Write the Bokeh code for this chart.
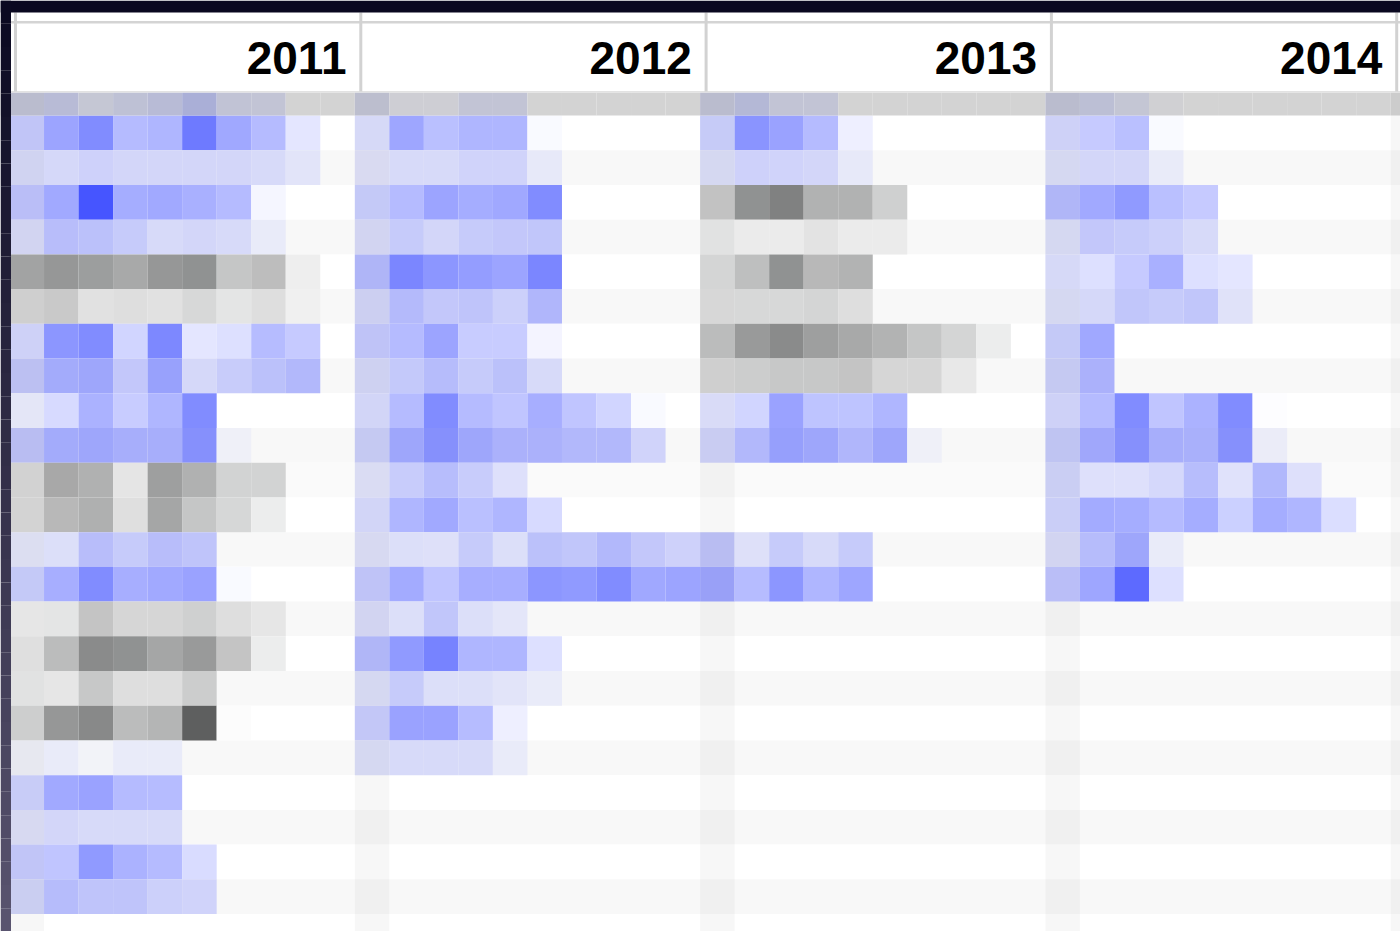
from bokeh.plotting import figure
from bokeh.models import Range1d
from bokeh.embed import file_html
from bokeh.resources import INLINE
from bokeh.core.properties import value

N = None
years = ["2011", "2012", "2013", "2014"]

# intensity (0-100) per row, 10 cells per year; None = empty cell
v2011 = [
    [29, 52, 66, 39, 42, 76, 50, 39, 14, N],
    [18, 19, 23, 20, 20, 20, 20, 18, 12, N],
    [33, 49, 97, 47, 49, 45, 39, 5, N, N],
    [17, 35, 33, 27, 18, 20, 18, 8, N, N],
    [51, 62, 58, 51, 62, 65, 34, 39, 10, N],
    [21, 29, 14, 16, 14, 20, 12, 16, 5, N],
    [22, 60, 66, 24, 68, 14, 18, 38, 30, N],
    [29, 46, 49, 29, 52, 19, 26, 33, 38, N],
    [10, 21, 44, 29, 42, 66, N, N, N, N],
    [31, 46, 49, 44, 44, 62, 5, N, N, N],
    [20, 50, 45, 13, 56, 45, 24, 24, N, N],
    [22, 42, 47, 19, 53, 34, 24, 11, N, N],
    [11, 15, 35, 27, 35, 31, N, N, N, N],
    [27, 46, 66, 46, 49, 53, 3, N, N, N],
    [6, 12, 32, 21, 21, 25, 16, 11, N, N],
    [14, 40, 69, 65, 53, 60, 35, 11, N, N],
    [9, 11, 30, 16, 16, 27, N, N, N, N],
    [25, 62, 70, 40, 44, 95, 2, N, N, N],
    [5, 8, 3, 8, 8, N, N, N, N, N],
    [25, 49, 53, 39, 38, N, N, N, N, N],
    [14, 20, 18, 18, 18, N, N, N, N, N],
    [29, 33, 58, 44, 39, 20, N, N, N, N],
    [21, 36, 31, 31, 24, 22, N, N, N, N],
]
v2012 = [
    [18, 51, 36, 42, 42, 3, N, N, N, N],
    [13, 18, 18, 22, 22, 9, N, N, N, N],
    [27, 39, 52, 47, 50, 66, N, N, N, N],
    [17, 27, 20, 27, 29, 30, N, N, N, N],
    [39, 69, 60, 56, 52, 69, N, N, N, N],
    [20, 37, 29, 31, 24, 39, N, N, N, N],
    [30, 39, 52, 29, 29, 6, N, N, N, N],
    [19, 28, 36, 27, 33, 18, N, N, N, N],
    [20, 39, 66, 39, 33, 46, 33, 24, 3, N],
    [24, 49, 62, 49, 42, 42, 38, 38, 22, N],
    [13, 27, 36, 27, 15, N, N, N, N, N],
    [20, 42, 49, 36, 42, 21, N, N, N, N],
    [14, 15, 14, 27, 15, 33, 30, 38, 29, 23],
    [30, 48, 33, 46, 46, 60, 58, 66, 50, 52],
    [17, 15, 30, 15, 11, N, N, N, N, N],
    [38, 58, 71, 42, 42, 18, N, N, N, N],
    [15, 27, 15, 15, 12, 8, N, N, N, N],
    [28, 53, 53, 38, 9, N, N, N, N, N],
    [15, 18, 18, 18, 8, N, N, N, N, N],
]
v2013 = [
    [26, 61, 53, 39, 9, N, N, N, N, N],
    [15, 23, 22, 20, 9, N, N, N, N, N],
    [32, 65, 75, 46, 46, 28, N, N, N, N],
    [9, 8, 8, 13, 8, 8, N, N, N, N],
    [21, 38, 65, 42, 45, N, N, N, N, N],
    [16, 20, 20, 22, 16, N, N, N, N, N],
    [36, 60, 69, 57, 51, 45, 34, 25, 11, N],
    [21, 27, 30, 30, 32, 21, 21, 10, N, N],
    [16, 24, 53, 34, 34, 42, N, N, N, N],
    [22, 38, 53, 49, 39, 49, 5, N, N, N],
    [N] * 10,
    [N] * 10,
    [31, 14, 27, 18, 27, N, N, N, N, N],
    [51, 38, 60, 42, 51, N, N, N, N, N],
]
v2014 = [
    [22, 30, 36, 3, N, N, N, N, N, N],
    [15, 20, 20, 8, N, N, N, N, N, N],
    [38, 49, 58, 36, 30, N, N, N, N, N],
    [15, 29, 27, 24, 18, N, N, N, N, N],
    [18, 18, 30, 45, 18, 14, N, N, N, N],
    [15, 19, 30, 27, 30, 13, N, N, N, N],
    [27, 50, N, N, N, N, N, N, N, N],
    [24, 42, N, N, N, N, N, N, N, N],
    [22, 39, 66, 33, 44, 66, 1, N, N, N],
    [27, 48, 62, 44, 43, 62, 7, N, N, N],
    [22, 15, 15, 20, 36, 14, 39, 15, N, N],
    [24, 48, 47, 39, 47, 27, 47, 42, 19, N],
    [17, 36, 49, 8, N, N, N, N, N, N],
    [33, 51, 85, 18, N, N, N, N, N, N],
]
values = {"2011": v2011, "2012": v2012, "2013": v2013, "2014": v2014}
# rows shown in the grey scale
gray_rows = {"2011": [4, 5, 10, 11, 14, 15, 16, 17], "2012": [],
             "2013": [2, 3, 4, 5, 6, 7], "2014": []}
# summary row above the grid
header_vals = {
    "2011": [35, 53, 27, 41, 53, 80, 35, 33, 0, 0],
    "2012": [31, 10, 10, 33, 33, 0, 0, 0, 0, 0],
    "2013": [35, 61, 33, 33, 0, 0, 0, 0, 0, 0],
    "2014": [35, 45, 29, 6, 0, 0, 0, 0, 0, 0],
}

N_ROWS = 24
NCOL = 10

# ---- geometry (pixels of the page) ----
CW, RH = 34.53, 34.72
GX0, GY0 = 9.0, 115.0
PW, PH = 1400, 931
LEFT, TOP = 0, 0


def px2x(px):
    return (px - GX0) / CW


def px2y(py):
    return (py - GY0) / RH


XL, XR = px2x(LEFT), px2x(LEFT + PW)
YT, YB = px2y(TOP), px2y(TOP + PH)

BLUE = (64, 80, 255)
GRAY = (85, 87, 87)
HDR0 = (211, 211, 211)
HDR1 = (160, 166, 216)


def hexc(c):
    return "#%02x%02x%02x" % tuple(int(round(max(0, min(255, v)))) for v in c)


def mix(a, b, t):
    return tuple(a[i] + (b[i] - a[i]) * t for i in range(3))


def bg(r):
    if r < 10:
        return (255, 255, 255) if r % 2 == 0 else (248, 248, 248)
    if r == 10:
        return (250, 250, 250)
    return (248, 248, 248) if r % 2 == 0 else (255, 255, 255)


p = figure(width=PW, height=PH, x_range=Range1d(XL, XR), y_range=Range1d(YB, YT),
           output_backend="svg", toolbar_location=None, min_border=0,
           x_axis_location=None, y_axis_location=None)
p.grid.visible = False
p.outline_line_color = None
p.background_fill_color = "white"
p.border_fill_color = "white"

# background stripes
bl, br, bt, bb, bc = [], [], [], [], []
for r in range(N_ROWS):
    bl.append(XL); br.append(XR); bt.append(r); bb.append(r + 1); bc.append(hexc(bg(r)))
p.quad(left=bl, right=br, top=bt, bottom=bb, fill_color=bc, line_color=None)

# cells
L, R, T, B, C = [], [], [], [], []
for k, yr in enumerate(years):
    for r, row in enumerate(values[yr]):
        base = GRAY if r in gray_rows[yr] else BLUE
        for c, v in enumerate(row):
            if v is None:
                continue
            x = k * NCOL + c
            L.append(x); R.append(x + 1); T.append(r); B.append(r + 1)
            C.append(hexc(mix(bg(r), base, v / 100.0)))
p.quad(left=L, right=R, top=T, bottom=B, fill_color=C, line_color=None)

# summary row
HY0 = px2y(92)
L, R, C = [], [], []
for k, yr in enumerate(years):
    for c, v in enumerate(header_vals[yr]):
        x = k * NCOL + c
        L.append(x); R.append(x + 1); C.append(hexc(mix(HDR0, HDR1, v / 100.0)))
L.append(len(years) * NCOL); R.append(len(years) * NCOL + 1); C.append(hexc(HDR0))
p.quad(left=L, right=R, top=[HY0] * len(L), bottom=[0] * len(L), fill_color=C, line_color=None)
p.quad(left=[XL], right=[0], top=[HY0], bottom=[0], fill_color=hexc(HDR0), line_color=None)

# first column of each year slightly darker
ox = [k * NCOL for k in range(len(years) + 1)]
p.quad(left=ox, right=[x + 1 for x in ox], top=[HY0] * len(ox), bottom=[YB] * len(ox),
       fill_color="black", fill_alpha=0.03, line_color=None)

# header band
p.quad(left=[XL], right=[XR], top=[px2y(12)], bottom=[px2y(91)], fill_color="white", line_color=None)
p.quad(left=[XL], right=[XR], top=[px2y(20.5)], bottom=[px2y(23)], fill_color="#d4d4d4", line_color=None)
p.quad(left=[XL], right=[XR], top=[px2y(90.5)], bottom=[px2y(92)], fill_color="#e2e2e2", line_color=None)
vx = [k * NCOL + (15 - GX0) / CW for k in range(len(years) + 1)]
p.segment(x0=vx, x1=vx, y0=[px2y(12)] * len(vx), y1=[px2y(91)] * len(vx),
          line_color="#d2d2d2", line_width=3)

# year labels
p.text(x=[k * NCOL + (346 - GX0) / CW for k in range(len(years))],
       y=[px2y(57)] * len(years), text=years,
       text_align="right", text_baseline="alphabetic",
       text_font=value("Liberation Sans"), text_font_style="bold",
       text_font_size="46px", text_color="#000000")

# dark window frame
p.quad(left=[XL], right=[XR], top=[YT], bottom=[px2y(12)], fill_color="#0a0820", line_color=None)
nseg = 40
fl, fr, ft, fb, fc = [], [], [], [], []
for i in range(nseg):
    y0 = TOP + PH * i / nseg
    y1 = TOP + PH * (i + 1) / nseg
    t = (y0 + y1) / 2 / 931.0
    fl.append(XL); fr.append(px2x(10.5)); ft.append(px2y(y0)); fb.append(px2y(y1))
    fc.append(hexc(mix((10, 8, 32), (90, 85, 112), t)))
p.quad(left=fl, right=fr, top=ft, bottom=fb, fill_color=fc, line_color=None)

open("out.html", "w").write(file_html(p, INLINE))
